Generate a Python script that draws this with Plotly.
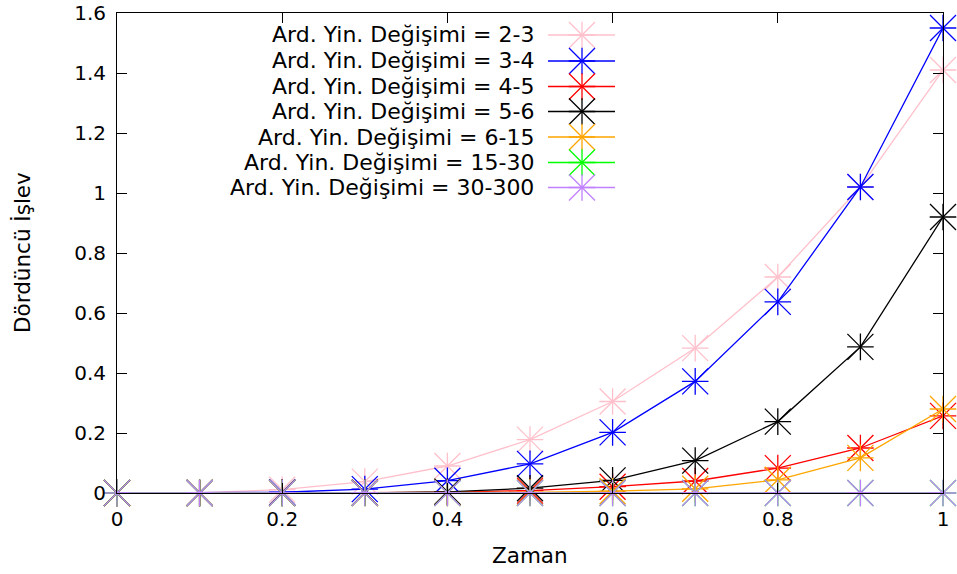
import plotly.graph_objects as go

# Time samples and the fourth-function values for each consecutive-change band
zaman = [0.0, 0.1, 0.2, 0.3, 0.4, 0.5, 0.6, 0.7, 0.8, 0.9, 1.0]

seri_2_3 = [0.0, 0.001, 0.011, 0.038, 0.09, 0.178, 0.305, 0.483, 0.72, 1.02, 1.41]
seri_3_4 = [0.0, 0.0002, 0.0025, 0.013, 0.041, 0.097, 0.202, 0.372, 0.637, 1.02, 1.55]
seri_4_5 = [0.0, 0.0, 0.0003, 0.001, 0.003, 0.008, 0.021, 0.04, 0.083, 0.15, 0.257]
seri_5_6 = [0.0, 0.0, 0.0001, 0.0007, 0.004, 0.016, 0.042, 0.108, 0.238, 0.487, 0.92]
seri_6_15 = [0.0, 0.0, 0.0, 0.0001, 0.0004, 0.002, 0.006, 0.014, 0.044, 0.117, 0.28]
seri_15_30 = [0.0] * 11
seri_30_300 = [0.0] * 11

etiketler = [
    "Ard. Yin. Değişimi = 2-3",
    "Ard. Yin. Değişimi = 3-4",
    "Ard. Yin. Değişimi = 4-5",
    "Ard. Yin. Değişimi = 5-6",
    "Ard. Yin. Değişimi = 6-15",
    "Ard. Yin. Değişimi = 15-30",
    "Ard. Yin. Değişimi = 30-300",
]
seriler = [seri_2_3, seri_3_4, seri_4_5, seri_5_6, seri_6_15, seri_15_30, seri_30_300]
renkler = ["#ffc0cb", "#0000ff", "#ff0000", "#000000", "#ffa500", "#00ff00", "#c080ff"]

x_ticks = [0, 0.2, 0.4, 0.6, 0.8, 1]
x_tick_text = ["0", "0.2", "0.4", "0.6", "0.8", "1"]
y_ticks = [0, 0.2, 0.4, 0.6, 0.8, 1, 1.2, 1.4, 1.6]
y_tick_text = ["0", "0.2", "0.4", "0.6", "0.8", "1", "1.2", "1.4", "1.6"]

FONT = "DejaVu Sans"
LW = 1.3

# plot-area geometry in pixels
L, R, T, B = 117, 14, 13, 81
W, H = 957, 574
PW, PH = W - L - R, H - T - B

fig = go.Figure()


def add_star(xs, ys, color, xaxis="x", yaxis="y"):
    # gnuplot-style '*' point: a plus overlaid with an x
    for sym, size in (("cross-thin-open", 19), ("x-thin-open", 26)):
        fig.add_trace(go.Scatter(
            x=xs, y=ys, mode="markers", xaxis=xaxis, yaxis=yaxis, showlegend=False,
            hoverinfo="skip", cliponaxis=False,
            marker=dict(symbol=sym, size=size, color=color,
                        line=dict(color=color, width=LW)),
        ))


for ad, ys, renk in zip(etiketler, seriler, renkler):
    fig.add_trace(go.Scatter(
        x=zaman, y=ys, mode="lines", name=ad, showlegend=False,
        line=dict(color=renk, width=LW),
    ))
    add_star(zaman, ys, renk)

# Key drawn gnuplot-style: right-aligned text, sample line and point to its right
satir_px = [35, 61, 86.5, 111.5, 137, 162.5, 187.5]
satir_y = [(H - B - p) / PH for p in satir_px]
cizgi_x = [(548 - L) / PW, (615 - L) / PW]
nokta_x = (582 - L) / PW
metin_x = (536 - L) / PW
for ad, renk, yy in zip(etiketler, renkler, satir_y):
    fig.add_trace(go.Scatter(
        x=cizgi_x, y=[yy, yy], mode="lines", xaxis="x2", yaxis="y2",
        showlegend=False, hoverinfo="skip", line=dict(color=renk, width=LW),
    ))
    add_star([nokta_x], [yy], renk, xaxis="x2", yaxis="y2")
    fig.add_annotation(
        x=metin_x, y=yy, xref="paper", yref="paper", text=ad, showarrow=False,
        xanchor="right", yanchor="middle", font=dict(family=FONT, size=22, color="black"),
    )

# axis titles
fig.add_annotation(
    x=(22 - L) / PW, y=(H - B - 253) / PH, xref="paper", yref="paper",
    text="Dördüncü İşlev", showarrow=False, textangle=-90,
    xanchor="center", yanchor="middle", font=dict(family=FONT, size=21.5, color="black"),
)
fig.add_annotation(
    x=(530 - L) / PW, y=(H - B - 555) / PH, xref="paper", yref="paper",
    text="Zaman", showarrow=False,
    xanchor="center", yanchor="middle", font=dict(family=FONT, size=21.5, color="black"),
)

fig.add_annotation(
    x=(815 - L) / PW, y=(H - B - 569) / PH, xref="paper", yref="paper", text="(a)",
    showarrow=False, xanchor="center", yanchor="top",
    font=dict(family="Liberation Serif", size=20, color="black"),
)

axis_common = dict(
    showgrid=False, zeroline=False, showline=True, linecolor="black", linewidth=1,
    mirror="ticks", ticks="inside", ticklen=10, tickcolor="black", tickwidth=1,
    tickfont=dict(family=FONT, size=20, color="black"), automargin=False,
)

fig.update_layout(
    width=W, height=H,
    margin=dict(l=L, r=R, t=T, b=B, autoexpand=False),
    paper_bgcolor="white", plot_bgcolor="white",
    showlegend=False,
    xaxis=dict(range=[0, 1], tickvals=x_ticks, ticktext=x_tick_text,
               ticklabelstandoff=8, **axis_common),
    yaxis=dict(range=[0, 1.6], tickvals=y_ticks, ticktext=y_tick_text,
               ticklabelstandoff=6, **axis_common),
    xaxis2=dict(range=[0, 1], overlaying="x", visible=False, fixedrange=True),
    yaxis2=dict(range=[0, 1], overlaying="y", visible=False, fixedrange=True),
)

fig.write_html("out.html")
